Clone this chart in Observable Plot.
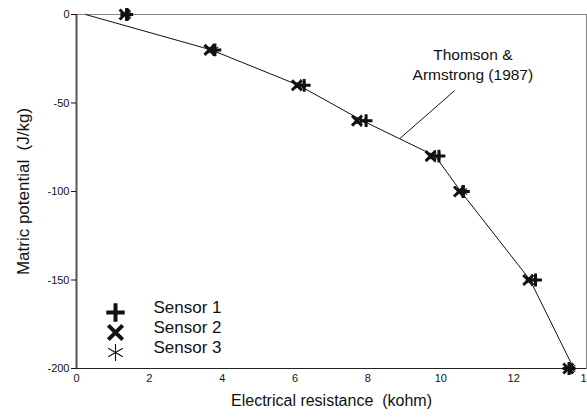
<!DOCTYPE html>
<html><head><meta charset="utf-8">
<script src="https://cdn.jsdelivr.net/npm/d3@7"></script>
<script src="https://cdn.jsdelivr.net/npm/@observablehq/plot@0.6"></script>
<style>body{margin:0;background:#fff;} #chart svg{display:block;}</style>
</head><body><div id="chart"></div>
<script>
// Data
const potential = [0, -20, -40, -60, -80, -100, -150, -200];
const sensor1 = [1.38, 3.8, 6.25, 7.95, 9.95, 10.62, 12.6, 13.52];
const sensor2 = [1.32, 3.65, 6.05, 7.7, 9.72, 10.5, 12.4, 13.5];
const sensor3 = [1.35, 3.75, 6.15, 7.82, 9.85, 10.58, 12.5, 13.55];
const curveResistance = [0.25, 3.7, 6.1, 7.85, 9.85, 10.55, 12.45, 13.65];
const curvePotential = [0, -20, -40, -60, -80, -100, -150, -200];
const xTicks = [0, 2, 4, 6, 8, 10, 12, 14];
const yTicks = [0, -50, -100, -150, -200];
const xTitle = "Electrical resistance  (kohm)";
const yTitle = "Matric potential  (J/kg)";
const legendLabels = ["Sensor 1", "Sensor 2", "Sensor 3"];
const annotationLines = ["Thomson &", "Armstrong (1987)"];
const annotationAt = [10.88, -27.5];
const leaderFrom = [10.38, -43];
const leaderTo = [8.88, -70];

const font = "'Liberation Sans', Arial, Helvetica, sans-serif";
const toRows = (xs) => xs.map((x, i) => ({x, y: potential[i]}));
const curve = curveResistance.map((x, i) => ({x, y: curvePotential[i]}));

const dataSymbols = [
  {symbol: "plus", r: 4.2, strokeWidth: 3},
  {symbol: "times", r: 4.6, strokeWidth: 3},
  {symbol: "asterisk", r: 5.7, strokeWidth: 1.1}
];
const legendSymbols = [
  {symbol: "plus", r: 6, strokeWidth: 4},
  {symbol: "times", r: 6.6, strokeWidth: 4},
  {symbol: "asterisk", r: 8, strokeWidth: 1.1}
];
const series = [sensor1, sensor2, sensor3];

const marks = [
  Plot.frame({stroke: "#888", strokeWidth: 1}),
  Plot.ruleY([-200], {stroke: "#222", strokeWidth: 1.2}),
  Plot.ruleX([0], {stroke: "#555", strokeWidth: 2}),
  Plot.axisY({ticks: yTicks, tickFormat: d => String(d), tickSize: 5, tickPadding: 2, fontSize: 11, label: null}),
  Plot.axisX({ticks: xTicks, tickFormat: d => String(d), tickSize: 0, tickPadding: 6, fontSize: 11, label: null}),
  Plot.text([yTitle], {frameAnchor: "left", dx: -53, rotate: -90, text: d => d, textAnchor: "middle",
    fontSize: 17, fill: "#111"}),
  Plot.text([xTitle], {frameAnchor: "bottom", dy: 37, text: d => d, textAnchor: "middle",
    fontSize: 16, fill: "#111"}),
  Plot.line(curve, {x: "x", y: "y", stroke: "#111", strokeWidth: 1}),
  Plot.link([{x1: leaderFrom[0], y1: leaderFrom[1], x2: leaderTo[0], y2: leaderTo[1]}],
    {x1: "x1", y1: "y1", x2: "x2", y2: "y2", stroke: "#111", strokeWidth: 1}),
  Plot.text([{x: annotationAt[0], y: annotationAt[1], t: annotationLines.join("\n")}],
    {x: "x", y: "y", text: "t", fontSize: 15.5, lineHeight: 1.3, textAnchor: "middle", fill: "#111"})
];
series.forEach((s, i) => {
  marks.push(Plot.dot(toRows(s), {x: "x", y: "y", symbol: dataSymbols[i].symbol, r: dataSymbols[i].r,
    stroke: "#111", strokeWidth: dataSymbols[i].strokeWidth}));
});
legendLabels.forEach((lab, i) => {
  const dy = -56 + i * 20;
  marks.push(Plot.dot([lab], {frameAnchor: "bottom-left", dx: 39, dy, symbol: legendSymbols[i].symbol,
    r: legendSymbols[i].r, stroke: "#111", strokeWidth: legendSymbols[i].strokeWidth}));
  marks.push(Plot.text([lab], {frameAnchor: "bottom-left", dx: 77, dy, text: d => d, textAnchor: "start",
    fontSize: 17, fill: "#111"}));
});

const chart = Plot.plot({
  width: 587,
  height: 419,
  marginLeft: 76,
  marginRight: 1,
  marginTop: 14,
  marginBottom: 51,
  style: {fontFamily: font, fontSize: "11px", color: "#111", background: "#fff"},
  x: {domain: [0, 14]},
  y: {domain: [-200, 0]},
  marks
});
document.getElementById("chart").appendChild(chart);
</script>
</body></html>
